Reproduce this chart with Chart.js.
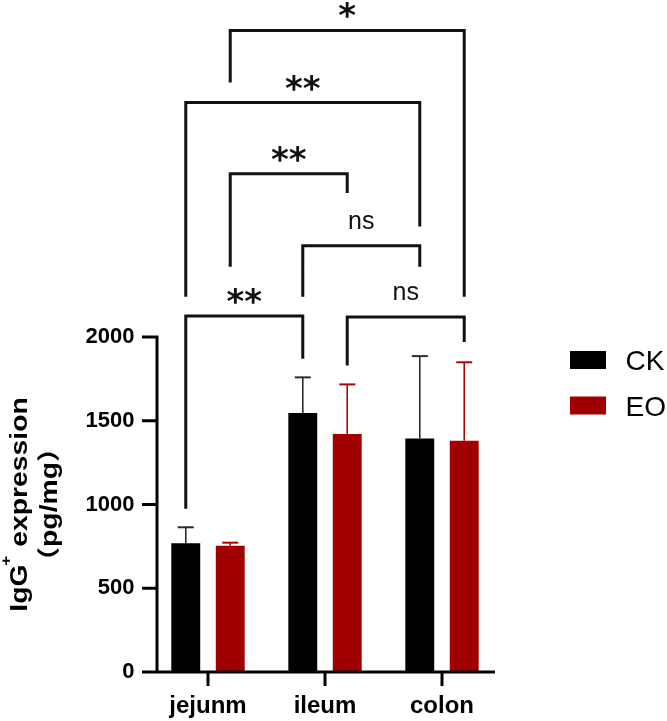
<!DOCTYPE html>
<html><head><meta charset="utf-8">
<style>html,body{margin:0;padding:0;background:#fff;}#c{display:block;}</style>
<script src="https://cdn.jsdelivr.net/npm/chart.js@4.4.1/dist/chart.umd.min.js"></script>
</head><body>
<canvas id="c" width="667" height="721"></canvas>
<script>
// ---- data ----
const categories = ['jejunm', 'ileum', 'colon'];
const seriesNames = ['CK', 'EO'];
const ckValues = [768, 1546, 1394];
const ckSD = [96, 213, 492];
const eoValues = [754, 1421, 1381];
const eoSD = [18, 296, 468];
const yTickValues = [0, 500, 1000, 1500, 2000];
const yTitleMain = 'IgG';
const yTitleSup = '+';
const yTitleRest = ' expression';
const yTitleUnitParts = ['（', 'pg/mg', '）'];
// significance brackets: [datasetIndex, categoryIndex] of the two bars joined
const bracketLabels = ['*', '**', '**', 'ns', '**', 'ns'];
const bracketLeftBar = [[1,0],[0,0],[1,0],[0,1],[0,0],[1,1]];
const bracketRightBar = [[1,2],[0,2],[1,1],[0,2],[0,1],[1,2]];
const bracketLevel = [3830, 3400, 2975, 2545, 2125, 2120];
const bracketLeftEnd = [3520, 2240, 2420, 2240, 975, 1830];
const bracketRightEnd = [2240, 2660, 2860, 2420, 1870, 1970];

const FONT = "'Liberation Sans', Arial, Helvetica";
const CK_COLOR = '#000000';
const EO_COLOR = '#a00000';
const sdList = [ckSD, eoSD];
const errColors = ['#2a2a2a', '#b00000'];

const axesPlugin = {
  id: 'customAxes',
  afterDraw(chart) {
    const {ctx, chartArea, scales: {x, y}} = chart;
    const ax = chartArea.left + 7.5;
    const y0 = y.getPixelForValue(0);
    const yTop = y.getPixelForValue(y.max);
    ctx.save();
    ctx.strokeStyle = '#000';
    ctx.lineWidth = 3;
    ctx.lineCap = 'butt';
    ctx.beginPath();
    ctx.moveTo(ax, yTop - 1.5); ctx.lineTo(ax, y0 + 1.5);
    ctx.moveTo(ax - 1.5, y0); ctx.lineTo(chartArea.right - 5.5, y0);
    y.ticks.forEach(t => {
      const py = y.getPixelForValue(t.value);
      ctx.moveTo(ax - 15, py); ctx.lineTo(ax, py);
    });
    categories.forEach((c, i) => {
      const px = x.getPixelForValue(i);
      ctx.moveTo(px, y0); ctx.lineTo(px, y0 + 14);
    });
    ctx.stroke();
    ctx.restore();
  }
};

const errorBarPlugin = {
  id: 'errorBars',
  afterDatasetsDraw(chart) {
    const {ctx, scales: {y}} = chart;
    ctx.save();
    chart.data.datasets.forEach((ds, di) => {
      const meta = chart.getDatasetMeta(di);
      meta.data.forEach((el, i) => {
        const top = y.getPixelForValue(ds.data[i] + sdList[di][i]);
        ctx.strokeStyle = errColors[di];
        ctx.lineWidth = 1.6;
        ctx.beginPath();
        ctx.moveTo(el.x, el.y);
        ctx.lineTo(el.x, top);
        ctx.stroke();
        ctx.lineWidth = 2;
        ctx.beginPath();
        ctx.moveTo(el.x - 8, top);
        ctx.lineTo(el.x + 8, top);
        ctx.stroke();
      });
    });
    ctx.restore();
  }
};

const bracketPlugin = {
  id: 'brackets',
  afterDraw(chart) {
    const {ctx, scales: {y}} = chart;
    ctx.save();
    ctx.strokeStyle = '#111';
    ctx.fillStyle = '#111';
    ctx.lineWidth = 3;
    ctx.lineJoin = 'miter';
    bracketLabels.forEach((lab, k) => {
      const l = chart.getDatasetMeta(bracketLeftBar[k][0]).data[bracketLeftBar[k][1]];
      const r = chart.getDatasetMeta(bracketRightBar[k][0]).data[bracketRightBar[k][1]];
      const yl = y.getPixelForValue(bracketLevel[k]);
      ctx.beginPath();
      ctx.moveTo(l.x, y.getPixelForValue(bracketLeftEnd[k]));
      ctx.lineTo(l.x, yl);
      ctx.lineTo(r.x, yl);
      ctx.lineTo(r.x, y.getPixelForValue(bracketRightEnd[k]));
      ctx.stroke();
      const isNs = lab === 'ns';
      ctx.font = isNs ? `25px ${FONT}, sans-serif` : `bold 34px 'DejaVu Sans', sans-serif`;
      ctx.textAlign = 'center';
      ctx.textBaseline = 'alphabetic';
      const m = ctx.measureText(lab);
      const gap = isNs ? 16.5 : 12;
      const base = yl - gap - m.actualBoundingBoxDescent;
      ctx.fillText(lab, (l.x + r.x) / 2, base);
    });
    ctx.restore();
  }
};

const legendPlugin = {
  id: 'sideLegend',
  afterDraw(chart) {
    const {ctx} = chart;
    ctx.save();
    ctx.font = `28px ${FONT}, sans-serif`;
    ctx.textAlign = 'left';
    ctx.textBaseline = 'alphabetic';
    chart.data.datasets.forEach((ds, i) => {
      const cy = 360 + i * 45.5;
      ctx.fillStyle = ds.backgroundColor;
      ctx.fillRect(570, cy - 9, 36, 18);
      ctx.fillStyle = '#000';
      ctx.fillText(ds.label, 625.5, cy + 10);
    });
    ctx.restore();
  }
};

const yTitlePlugin = {
  id: 'yTitle',
  afterDraw(chart) {
    const {ctx, chartArea} = chart;
    const cy = (chartArea.top + chartArea.bottom) / 2;
    ctx.save();
    ctx.fillStyle = '#000';
    ctx.textBaseline = 'alphabetic';
    ctx.textAlign = 'left';
    // line 1
    ctx.save();
    ctx.translate(27, cy);
    ctx.rotate(-Math.PI / 2);
    ctx.scale(1.23, 1);
    const f1 = "bold 23px 'Liberation Sans'", fs = "bold 14px 'Liberation Sans'";
    ctx.font = f1; const w1 = ctx.measureText(yTitleMain).width; const w3 = ctx.measureText(yTitleRest).width;
    ctx.font = fs; const w2 = ctx.measureText(yTitleSup).width;
    let x0 = -(w1 + w2 + w3) / 2;
    ctx.font = f1; ctx.fillText(yTitleMain, x0, 0);
    ctx.font = fs; ctx.fillText(yTitleSup, x0 + w1 - 1, -16);
    ctx.font = f1; ctx.fillText(yTitleRest, x0 + w1 + w2, 0);
    ctx.restore();
    // line 2
    ctx.save();
    ctx.translate(56.5, cy);
    ctx.rotate(-Math.PI / 2);
    ctx.scale(1.23, 1);
    const fonts2 = ["bold 23px 'Noto Sans CJK SC'", "bold 23px 'Liberation Sans'", "bold 23px 'Noto Sans CJK SC'"];
    const widths2 = yTitleUnitParts.map((t, i) => { ctx.font = fonts2[i]; return ctx.measureText(t).width; });
    let xx = -widths2.reduce((a, b) => a + b, 0) / 2;
    yTitleUnitParts.forEach((t, i) => { ctx.font = fonts2[i]; ctx.fillText(t, xx, 0); xx += widths2[i]; });
    ctx.restore();
    ctx.restore();
  }
};

new Chart(document.getElementById('c'), {
  type: 'bar',
  data: {
    labels: categories,
    datasets: [
      { label: seriesNames[0], data: ckValues, backgroundColor: CK_COLOR, borderWidth: 0,
        categoryPercentage: 0.76, barPercentage: 0.65 },
      { label: seriesNames[1], data: eoValues, backgroundColor: EO_COLOR, borderWidth: 0,
        categoryPercentage: 0.76, barPercentage: 0.65 }
    ]
  },
  options: {
    responsive: false,
    animation: false,
    layout: { padding: { top: 337, right: 166.5, bottom: 0, left: 0 } },
    plugins: { legend: { display: false }, tooltip: { enabled: false } },
    scales: {
      x: {
        offset: true,
        grid: { display: false },
        border: { display: false },
        ticks: { color: '#000', font: { family: FONT + ', sans-serif', size: 24, weight: 'bold' }, padding: 12, maxRotation: 0 },
        afterFit(s) { s.height = 49; }
      },
      y: {
        min: 0, max: 2000,
        grid: { display: false },
        border: { display: false },
        afterBuildTicks(s) { s.ticks = yTickValues.map(v => ({ value: v })); },
        ticks: { color: '#000', font: { family: FONT + ', sans-serif', size: 22, weight: 'bold' }, padding: 7,
                 callback: (v) => String(v) },
        afterFit(s) { s.width = 149.5; }
      }
    }
  },
  plugins: [errorBarPlugin, axesPlugin, bracketPlugin, legendPlugin, yTitlePlugin]
});
</script></body></html>
